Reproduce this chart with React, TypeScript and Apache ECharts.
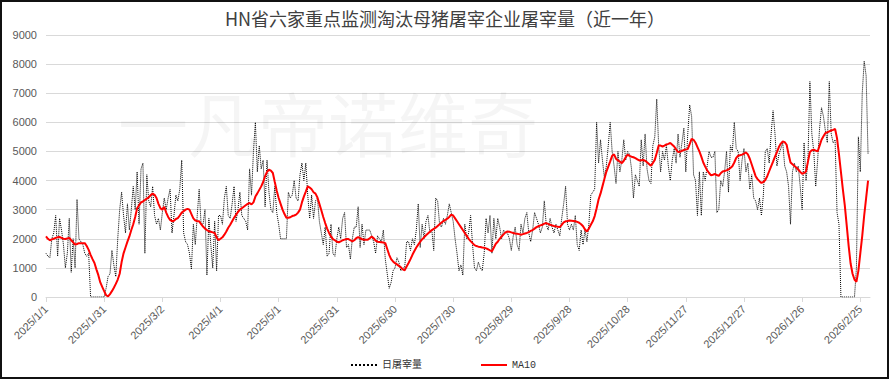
import React, { useEffect, useRef } from "react";
import * as echarts from "echarts";

const TITLE = "HN省六家重点监测淘汰母猪屠宰企业屠宰量（近一年）";
const WATERMARK = "一凡帝诺维奇";
const SERIES_NAMES = ["日屠宰量", "MA10"];
const START_YEAR = 2025;
const DAY_COUNT = 426; // 2025/1/1 .. 2026/3/2 (axis span)

// daily slaughter volume, one value per day from 2025/1/1
const dailySlaughter = [
  1500, 1400, 1350, 2000, 2200, 2800, 1400, 2700, 2300, 1800,
  1000, 1500, 2700, 850, 2000, 1000, 3350, 2000, 1900, 1800,
  1500, 1400, 1500, 0, 0, 0, 0, 0, 0, 0,
  0, 300, 700, 800, 1600, 1100, 700, 2000, 3000, 3600,
  2800, 2200, 3200, 2300, 3000, 3800, 3000, 4300, 2500, 4400,
  4600, 1500, 4200, 3300, 3100, 3800, 2800, 2500, 2700, 2300,
  2900, 3400, 3000, 3400, 3700, 2200, 2800, 3500, 3300, 3700,
  4700, 2200, 1900, 1800, 1500, 950, 2500, 1800, 2800, 3700,
  2500, 2500, 3000, 750, 2700, 1800, 1000, 2600, 900, 2800,
  2800, 2500, 3400, 3800, 2800, 2700, 3200, 3800, 2600, 3000,
  3600, 2800, 2700, 2600, 2300, 4400, 3500, 5000, 6000, 4300,
  5200, 4400, 4700, 3100, 4700, 3600, 3000, 2900, 3800, 2900,
  2500, 2000, 2000, 2000, 2000, 3600, 3400, 3500, 4000, 3400,
  3300, 4200, 4600, 4000, 4600, 3500, 2700, 3500, 2700, 3300,
  3400, 2600, 2200, 1800, 2400, 1400, 1500, 2500, 1500, 1400,
  2000, 2400, 2000, 2700, 2900, 1700, 1800, 1300, 2000, 2400,
  2400, 3100, 1700, 2500, 1800, 2300, 2300, 2300, 2100, 1900,
  1500, 2100, 2000, 1900, 2300, 1300, 800, 300, 500, 900,
  1000, 1350, 1200, 900, 1000, 1000, 1900, 1900, 1600, 2000,
  1800, 2300, 3200, 1700, 2500, 2000, 2600, 2800, 2200, 2300,
  1600, 3400, 3300, 2500, 2400, 2700, 2500, 2800, 3200, 2900,
  2600, 2000, 1500, 900, 1100, 750, 2500, 2000, 2200, 2800,
  1800, 1000, 900, 1200, 1000, 900, 1500, 2700, 2200, 2800,
  1500, 2700, 2000, 2700, 2400, 2000, 2300, 2200, 2200, 2000,
  1600, 2100, 2400, 1800, 1600, 2500, 2200, 2700, 2900, 2200,
  1900, 2300, 2900, 2700, 2500, 2200, 2400, 3300, 2500, 2300,
  2700, 2400, 2200, 2500, 2300, 2100, 2700, 3200, 3800, 2500,
  2300, 2500, 2300, 2800, 1800, 1600, 2300, 1800, 2300, 1900,
  2500, 3500, 3600, 3700, 6000, 4600, 5400, 4700, 4100, 4500,
  5200, 6000, 5000, 4500, 3900, 5000, 4300, 4700, 5400, 4700,
  5000, 4900, 4400, 3400, 4200, 4000, 3800, 5400, 4500, 5600,
  4400, 4000, 3900, 5200, 5500, 6800, 5200, 4300, 5000, 4700,
  5200, 4500, 4000, 4700, 5100, 4600, 5600, 4800, 5300, 5800,
  4300, 5600, 6600, 6200, 4200, 4000, 2800, 4300, 2800, 4300,
  4000, 4500, 5000, 4800, 4800, 5000, 2900, 3000, 4000, 3800,
  4300, 5000, 3600, 5200, 5000, 6000, 5100, 5000, 4000, 4700,
  5100, 4300, 4600, 3700, 4200, 3400, 3300, 3000, 3400, 2800,
  3500, 5000, 5100, 4600, 5600, 6400, 5600, 4500, 4900, 5100,
  5300, 4500, 4300, 3800, 2500, 4300, 4600, 4300, 4500, 3800,
  3000, 5300, 4000, 4700, 7400, 5600, 5000, 3800, 4700, 5800,
  6500, 6200, 5700, 5300, 7400, 5600, 5300, 5400, 2900, 2500,
  0, 0, 0, 0, 0, 0, 0, 0, 1000, 5500,
  4300, 7000, 8100, 7600, 4900,
];

// 10-day moving average
const ma10 = [
  2080, 2000, 1950, 1980, 2000, 2030, 2050, 2060, 2030, 2000,
  1990, 2010, 2030, 1950, 1880, 1800, 1820, 1850, 1850, 1850,
  1850, 1750, 1620, 1450, 1300, 1170, 950, 750, 500, 350,
  200, 60, 20, 100, 200, 320, 450, 600, 800, 1200,
  1500, 1700, 1900, 2080, 2300, 2500, 2750, 3050, 3150, 3250,
  3280, 3330, 3380, 3420, 3500, 3550, 3510, 3400, 3200, 3050,
  3000, 3100, 2900, 2750, 2650, 2600, 2620, 2680, 2710, 2800,
  2900, 2950, 3000, 3030, 3000, 2850, 2700, 2630, 2600, 2600,
  2500, 2420, 2350, 2300, 2260, 2240, 2220, 2200, 2050, 1950,
  2000, 2050, 2140, 2250, 2380, 2480, 2600, 2720, 2820, 2920,
  3000, 3050, 3100, 3150, 3200, 3230, 3180, 3250, 3450, 3560,
  3680, 3800, 3950, 4150, 4300, 4370, 4340, 4260, 3950, 3650,
  3400, 3200, 3000, 2850, 2720, 2720, 2740, 2780, 2800, 2830,
  2900, 3000, 3250, 3450, 3620, 3800, 3760, 3700, 3600, 3550,
  3420, 3200, 2980, 2750, 2540, 2350, 2200, 2080, 1990, 1950,
  1900, 1880, 1910, 1950, 1970, 1990, 1990, 1950, 1910, 1950,
  2020, 2060, 2020, 1980, 1970, 1970, 1970, 2020, 2080, 2020,
  1940, 1900, 1890, 1880, 1870, 1850, 1650, 1450, 1300, 1220,
  1160, 1120, 1070, 1020, 950, 920, 1050, 1170, 1300, 1450,
  1580, 1700, 1800, 1900, 1980, 2050, 2120, 2180, 2240, 2300,
  2340, 2380, 2440, 2500, 2560, 2610, 2650, 2690, 2750, 2830,
  2800, 2700, 2600, 2500, 2400, 2300, 2200, 2100, 2000, 1920,
  1850, 1780, 1750, 1730, 1720, 1700, 1690, 1670, 1640, 1600,
  1570, 1700, 1830, 1900, 2000, 2080, 2150, 2220, 2250, 2240,
  2220, 2200, 2180, 2170, 2160, 2140, 2160, 2180, 2200, 2230,
  2270, 2300, 2350, 2400, 2430, 2460, 2480, 2520, 2540, 2510,
  2480, 2460, 2440, 2430, 2410, 2400, 2480, 2560, 2600, 2610,
  2630, 2620, 2610, 2600, 2580, 2550, 2500, 2430, 2320, 2250,
  2350, 2480, 2600, 2780, 3050, 3350, 3550, 3800, 4050, 4300,
  4480, 4660, 4850, 4900, 4750, 4690, 4650, 4600, 4680, 4800,
  4890, 4850, 4820, 4800, 4770, 4730, 4690, 4700, 4710, 4680,
  4630, 4570, 4510, 4600, 4710, 4950, 5200, 5200, 5170, 5200,
  5240, 5260, 5290, 5230, 5170, 5070, 4980, 4990, 5020, 5050,
  5070, 5080, 5250, 5430, 5400, 5300, 5150, 5000, 4820, 4620,
  4480, 4350, 4260, 4180, 4200, 4230, 4190, 4160, 4250, 4310,
  4330, 4350, 4380, 4430, 4490, 4620, 4780, 4850, 4870, 4890,
  4920, 4970, 4900, 4750, 4550, 4350, 4150, 4050, 3980, 3920,
  3950, 4020, 4150, 4320, 4490, 4650, 4820, 4980, 5150, 5270,
  5340, 5320, 5230, 4900, 4620, 4560, 4500, 4450, 4380, 4300,
  4230, 4260, 4310, 4650, 4980, 5040, 5060, 5030, 5000, 5200,
  5400, 5520, 5630, 5660, 5690, 5720, 5740, 5770, 5450, 4900,
  4300, 3700, 3150, 2450, 1750, 1150, 800, 600, 520, 900,
  1500, 2100, 2800, 3400, 4000,
];

function buildDates(): string[] {
  const out: string[] = [];
  const start = Date.UTC(START_YEAR, 0, 1);
  for (let i = 0; i < DAY_COUNT; i++) {
    const d = new Date(start + i * 86400000);
    out.push(`${d.getUTCFullYear()}/${d.getUTCMonth() + 1}/${d.getUTCDate()}`);
  }
  return out;
}

export default function App() {
  const ref = useRef<HTMLDivElement>(null);

  useEffect(() => {
    if (!ref.current) return;
    const chart = echarts.init(ref.current, undefined, { renderer: "svg" });
    const dates = buildDates();
    const labelColor = "#595959";
    const gridColor = "#d9d9d9";

    chart.setOption({
      animation: false,
      backgroundColor: "#ffffff",
      title: {
        text: TITLE,
        left: "center",
        top: 9,
        padding: 0,
        textStyle: {
          fontFamily: "Noto Sans CJK SC",
          fontSize: 18,
          fontWeight: "normal",
          color: "#404040",
        },
      },
      grid: { left: 46, right: 20, top: 35, bottom: 83 },
      legend: {
        data: SERIES_NAMES,
        left: 350,
        top: 360,
        padding: 0,
        itemWidth: 26,
        itemHeight: 12,
        itemGap: 58,
        itemStyle: { opacity: 0 },
        textStyle: {
          fontFamily: "Liberation Mono, Noto Sans CJK SC",
          fontSize: 10,
          color: "#333333",
        },
      },
      xAxis: {
        type: "category",
        data: dates,
        boundaryGap: false,
        axisLine: { lineStyle: { color: gridColor } },
        axisTick: { interval: 29, length: 5, lineStyle: { color: gridColor } },
        axisLabel: {
          interval: 29,
          rotate: 45,
          margin: 10,
          fontSize: 11,
          fontFamily: "Liberation Sans",
          color: labelColor,
        },
        splitLine: { show: false },
      },
      yAxis: {
        type: "value",
        min: 0,
        max: 9000,
        interval: 1000,
        axisLine: { show: false },
        axisTick: { show: false },
        axisLabel: {
          margin: 9,
          fontSize: 11,
          fontFamily: "Liberation Sans",
          color: labelColor,
          formatter: (v: number) => String(v),
        },
        splitLine: { lineStyle: { color: gridColor, width: 1 } },
      },
      graphic: [
        {
          type: "text",
          left: 118,
          top: 86,
          z: 1,
          silent: true,
          style: {
            text: WATERMARK,
            fontSize: 70,
            fontFamily: "Noto Sans CJK SC",
            fill: "rgba(0,0,0,0.04)",
          },
        },
        {
          type: "rect",
          z: 10,
          silent: true,
          shape: { x: 1, y: 1, width: 887, height: 377 },
          style: { fill: "none", stroke: "#111111", lineWidth: 2 },
        },
      ],
      series: [
        {
          name: SERIES_NAMES[0],
          type: "line",
          data: dailySlaughter,
          symbol: "none",
          z: 2,
          lineStyle: { color: "#000000", width: 1, type: "dotted" },
          itemStyle: { color: "#000000" },
        },
        {
          name: SERIES_NAMES[1],
          type: "line",
          data: ma10,
          symbol: "none",
          z: 3,
          lineStyle: { color: "#ff0000", width: 2 },
          itemStyle: { color: "#ff0000" },
        },
      ],
    });

    return () => chart.dispose();
  }, []);

  return (
    <div
      ref={ref}
      style={{ position: "fixed", left: 0, top: 0, width: 890, height: 380 }}
    />
  );
}
